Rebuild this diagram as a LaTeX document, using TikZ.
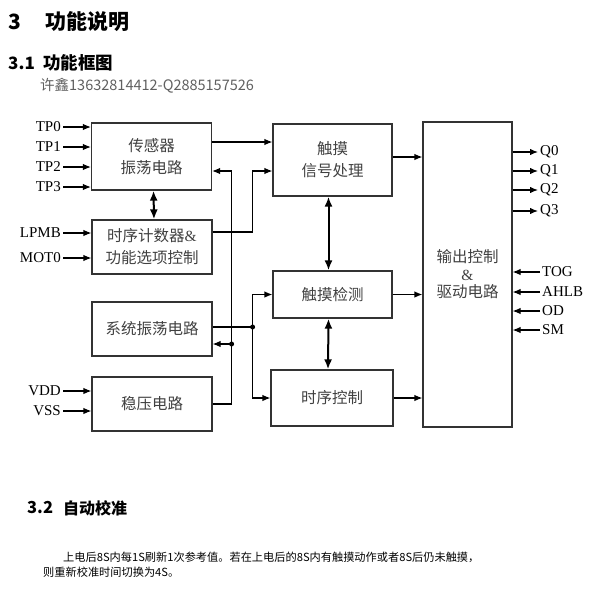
\documentclass[tikz,border=0pt]{standalone}
\usepackage{fontspec}
\setmainfont{Liberation Serif}
\newfontfamily\cjk{Noto Sans CJK SC}
\usetikzlibrary{arrows.meta}
\definecolor{boxline}{HTML}{333333}
\definecolor{boxtext}{HTML}{404040}
\definecolor{notegray}{HTML}{606060}
\tikzset{
  blk/.style={draw=boxline, line width=1.2pt, minimum width=120pt, text=boxtext,
    font=\cjk\fontsize{15.5}{22}\selectfont, align=center, inner sep=0pt},
  lbl/.style={font=\fontsize{15}{15}\selectfont, inner sep=2pt},
  arr/.style={line width=1.2pt, -{Latex[length=8pt,width=6.5pt]}},
  darr/.style={line width=2pt, {Latex[length=10pt,width=8pt]}-{Latex[length=10pt,width=8pt]}},
  dot/.style={circle, fill, inner sep=0pt, minimum size=5pt},
  head/.style={anchor=west, inner sep=0pt, font=\cjk\bfseries\fontsize{#1}{#1}\selectfont},
}
\begin{document}
\begin{tikzpicture}[x=1pt, y=-1pt]
\useasboundingbox (0,0) rectangle (600,600);

% headings
\node[head=21] (h3) at (8,22) {3};
\node[head=21] (h3t) at (45,22) {功能说明};
\node[head=17] (h31) at (8,63) {3.1};
\node[head=17.5] (h31t) at (43,63) {功能框图};
\node[anchor=west, inner sep=0pt, text=notegray, font=\cjk\fontsize{14.5}{14.5}\selectfont] (note) at (40,86) {许鑫13632814412-Q2885157526};

% blocks
\node[blk, minimum height=67pt] (sens) at (151.5,156.5) {传感器\\振荡电路};
\node[blk, minimum height=54pt] (tmr) at (152,247) {时序计数器{\rmfamily\&}\\功能选项控制};
\node[blk, minimum height=54pt] (osc) at (152,329) {系统振荡电路};
\node[blk, minimum height=54pt] (reg) at (152,404) {稳压电路};
\node[blk, minimum width=119pt, minimum height=72pt] (sig) at (332.5,160) {触摸\\信号处理};
\node[blk, minimum width=119pt, minimum height=47pt] (det) at (332.5,294.5) {触摸检测};
\node[blk, minimum width=122pt, minimum height=56pt] (tctl) at (332,398) {时序控制};
\node[blk, minimum width=89pt, minimum height=305pt, font=\cjk\fontsize{15.5}{17.5}\selectfont] (out) at (467.5,274.5) {输出控制\\{\rmfamily\&}\\驱动电路};

% inputs
\foreach \i/\yy in {0/127,1/147,2/167,3/187} {
  \node[lbl, anchor=east] (tp\i) at (63,\yy) {TP\i};
  \draw[arr] (tp\i.east) -- (tp\i.east -| sens.west);
}
\node[lbl, anchor=east] (lpmb) at (63,233) {LPMB};
\node[lbl, anchor=east] (mot0) at (63,258) {MOT0};
\node[lbl, anchor=east] (vdd) at (63,391) {VDD};
\node[lbl, anchor=east] (vss) at (63,411) {VSS};
\foreach \n/\b in {lpmb/tmr,mot0/tmr,vdd/reg,vss/reg}
  \draw[arr] (\n.east) -- (\n.east -| \b.west);

% outputs
\foreach \i/\yy in {0/152,1/171,2/190,3/211} {
  \node[lbl, anchor=west] (q\i) at (538,\yy) {Q\i};
  \draw[arr] (q\i.west -| out.east) -- (q\i.west);
}
\foreach \n/\t/\yy in {tog/TOG/272,ahlb/AHLB/292,od/OD/311,sm/SM/330} {
  \node[lbl, anchor=west] (\n) at (540,\yy) {\t};
  \draw[arr] (\n.west) -- (\n.west -| out.east);
}

% internal links
\draw[arr] ([yshift=14.5pt]sens.east) -- ([yshift=18pt]sig.west);
\draw[arr] ([yshift=15pt]tmr.east) -- ++(40,0) |- ([yshift=-11pt]sig.west);
\draw[darr] ([xshift=2pt]sens.south) -- ([xshift=2pt]tmr.north);
\draw[darr] ([xshift=-4pt]sig.south) -- ([xshift=-4pt]det.north);
\draw[darr] ([xshift=-4pt]det.south) -- ([xshift=-4pt]tctl.north);

\node[dot] (j2) at ([xshift=19pt,yshift=-15pt]osc.east) {};
\draw[arr] (reg.east) -| (j2.center) |- ([yshift=-14.5pt]sens.east);
\draw[arr] (j2.center) -- (j2.center -| osc.east);

\node[dot] (j1) at ([xshift=40pt,yshift=2pt]osc.east) {};
\draw[line width=1.2pt] ([yshift=2pt]osc.east) -- (j1.center);
\draw[arr] (j1.center) |- (det.west);
\draw[arr] (j1.center) |- (tctl.west);

\draw[arr] ([yshift=3pt]sig.east) -- ([yshift=3pt]sig.east -| out.west);
\draw[arr] (det.east) -- (det.east -| out.west);
\draw[arr] (tctl.east) -- (tctl.east -| out.west);

% section 3.2
\node[head=16.5] (h32) at (27,508) {3.2};
\node[head=16] (h32t) at (63,508) {自动校准};
\node[anchor=west, inner sep=0pt, font=\cjk\fontsize{11.2}{11.2}\selectfont] (para1) at (63,557) {上电后8S内每1S刷新1次参考值。若在上电后的8S内有触摸动作或者8S后仍未触摸，};
\node[anchor=west, inner sep=0pt, font=\cjk\fontsize{11.2}{11.2}\selectfont] (para2) at (43,572) {则重新校准时间切换为4S。};
\end{tikzpicture}
\end{document}
